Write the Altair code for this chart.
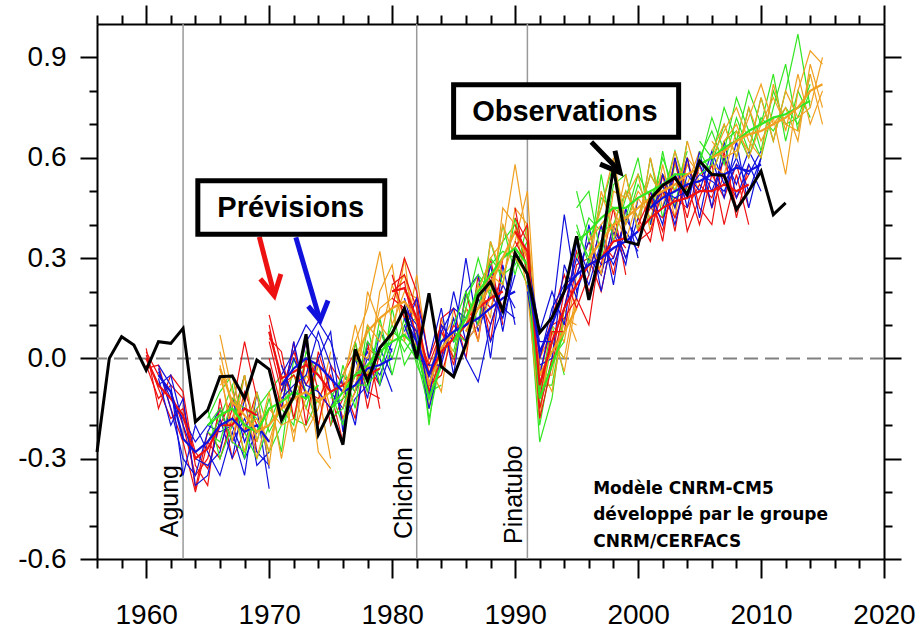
import altair as alt
import pandas as pd

# ---------------- data ----------------
OBS_YEARS = list(range(1956, 2013))
OBS = [-0.28, 0.0, 0.065, 0.04, -0.035, 0.05, 0.045, 0.09, -0.19, -0.155,
       -0.055, -0.053, -0.12, -0.005, -0.033, -0.185, -0.113, 0.072, -0.228, -0.153,
       -0.258, 0.027, -0.068, 0.032, 0.075, 0.15, 0.0, 0.195, -0.025, -0.055,
       0.042, 0.187, 0.229, 0.142, 0.315, 0.252, 0.077, 0.122, 0.2, 0.365,
       0.175, 0.33, 0.57, 0.35, 0.34, 0.477, 0.517, 0.54, 0.49, 0.59,
       0.55, 0.547, 0.445, 0.5, 0.56, 0.43, 0.465]

START_YEARS = [1960, 1961, 1965, 1966, 1970, 1971, 1975, 1976, 1980, 1981,
               1985, 1986, 1990, 1991, 1995, 1996, 2000, 2001, 2005, 2006]
START_COLORS = ["rouge", "bleu", "vert", "orange"] * 5

ENS_MEAN = {
    1960: [0.0, -0.08, -0.12, -0.17, -0.30, -0.27, -0.2, -0.2, -0.15, -0.17],
    1961: [-0.05, -0.1, -0.24, -0.28, -0.25, -0.2, -0.18, -0.22, -0.2, -0.25],
    1965: [-0.2, -0.17, -0.15, -0.2, -0.22, -0.15, -0.13, -0.1, -0.12, -0.08],
    1966: [-0.03, -0.13, -0.17, -0.22, -0.2, -0.15, -0.12, -0.1, -0.13, -0.1],
    1970: [0.08, -0.06, -0.04, -0.02, -0.05, -0.1, -0.08, -0.05, -0.05, -0.03],
    1971: [-0.08, -0.03, 0.0, -0.02, -0.06, -0.1, -0.08, -0.03, -0.02, 0.0],
    1975: [-0.15, -0.1, -0.05, -0.02, 0.02, 0.05, 0.07, 0.03, -0.12, -0.02],
    1976: [-0.1, 0.0, 0.08, 0.12, 0.15, 0.17, 0.12, -0.08, 0.03, 0.08],
    1980: [0.2, 0.21, 0.12, -0.05, 0.02, 0.06, 0.1, 0.15, 0.18, 0.2],
    1981: [0.12, 0.05, -0.05, 0.05, 0.08, 0.1, 0.12, 0.15, 0.18, 0.2],
    1985: [0.05, 0.12, 0.2, 0.25, 0.3, 0.33, 0.28, -0.12, -0.02, 0.08],
    1986: [0.08, 0.15, 0.22, 0.3, 0.38, 0.3, -0.05, 0.02, 0.08, 0.15],
    1990: [0.38, 0.32, -0.08, 0.05, 0.15, 0.22, 0.28, 0.3, 0.35, 0.36],
    1991: [0.25, 0.02, 0.1, 0.2, 0.25, 0.28, 0.3, 0.33, 0.35, 0.38],
    1995: [0.35, 0.38, 0.42, 0.45, 0.45, 0.48, 0.5, 0.52, 0.55, 0.55],
    1996: [0.3, 0.35, 0.4, 0.42, 0.45, 0.48, 0.5, 0.52, 0.55, 0.57],
    2000: [0.38, 0.42, 0.45, 0.47, 0.48, 0.5, 0.5, 0.52, 0.5, 0.52],
    2001: [0.45, 0.48, 0.5, 0.52, 0.53, 0.55, 0.55, 0.57, 0.56, 0.58],
    2005: [0.58, 0.6, 0.63, 0.65, 0.68, 0.7, 0.72, 0.73, 0.75, 0.77],
    2006: [0.6, 0.62, 0.65, 0.67, 0.68, 0.7, 0.72, 0.75, 0.8, 0.82],
}

MEMBERS = {
    1960: [[0.02, -0.05, -0.1, -0.2, -0.35, -0.3, -0.15, -0.25, -0.1, -0.2],
           [-0.02, -0.12, -0.08, -0.12, -0.39, -0.22, -0.27, -0.15, 0.05, -0.12],
           [0.01, -0.09, -0.18, -0.15, -0.28, -0.33, -0.2, -0.12, -0.2, -0.25],
           [-0.03, -0.02, -0.15, -0.25, -0.4, -0.25, -0.3, -0.18, -0.05, -0.28],
           [0.03, -0.15, -0.05, -0.1, -0.32, -0.38, -0.12, -0.3, -0.22, -0.1]],
    1961: [[-0.03, -0.15, -0.3, -0.35, -0.22, -0.15, -0.25, -0.18, -0.28, -0.32],
           [-0.08, -0.05, -0.2, -0.3, -0.32, -0.28, -0.12, -0.25, -0.15, -0.39],
           [-0.04, -0.12, -0.18, -0.25, -0.2, -0.22, -0.2, -0.3, -0.22, -0.2],
           [-0.06, -0.2, -0.12, -0.38, -0.35, -0.18, -0.3, -0.12, -0.32, -0.28],
           [-0.02, -0.08, -0.35, -0.2, -0.28, -0.35, -0.22, -0.35, -0.1, -0.33]],
    1965: [[-0.18, -0.1, -0.05, -0.22, -0.3, -0.2, -0.1, -0.05, -0.15, -0.02],
           [-0.22, -0.25, -0.12, -0.15, -0.18, -0.28, -0.2, -0.12, -0.05, -0.1],
           [-0.2, -0.15, -0.25, -0.28, -0.15, -0.1, -0.05, -0.18, -0.2, -0.12],
           [-0.15, -0.3, -0.2, -0.05, -0.25, -0.12, -0.28, 0.0, -0.1, -0.2],
           [-0.25, -0.18, -0.08, -0.3, -0.1, -0.22, -0.15, -0.2, 0.02, -0.05]],
    1966: [[0.07, -0.1, -0.2, -0.15, -0.28, -0.1, -0.05, -0.15, -0.2, -0.05],
           [-0.05, -0.2, -0.12, -0.3, -0.15, -0.2, -0.18, -0.05, -0.1, -0.3],
           [-0.08, -0.05, -0.22, -0.18, -0.25, -0.12, -0.22, -0.12, -0.02, -0.15],
           [-0.02, -0.25, -0.05, -0.25, -0.1, -0.3, -0.1, -0.22, -0.15, 0.02],
           [0.02, -0.15, -0.28, -0.1, -0.32, -0.05, -0.25, 0.0, -0.28, -0.33]],
    1970: [[0.13, -0.02, -0.12, 0.05, -0.1, -0.15, -0.05, 0.02, -0.1, -0.12],
           [0.05, -0.1, 0.02, -0.08, 0.0, -0.2, -0.12, -0.08, 0.03, 0.0],
           [0.1, -0.08, -0.05, -0.1, -0.12, -0.05, -0.18, -0.1, -0.02, -0.08],
           [0.0, -0.15, 0.05, -0.2, 0.02, -0.1, -0.25, 0.05, -0.15, 0.02],
           [0.06, 0.02, -0.18, 0.0, -0.2, -0.02, -0.08, -0.18, 0.05, -0.15]],
    1971: [[-0.05, 0.02, 0.1, 0.05, -0.1, -0.15, -0.05, 0.02, -0.08, 0.03],
           [-0.12, -0.08, -0.05, 0.08, -0.02, -0.2, -0.12, -0.08, 0.03, -0.05],
           [-0.1, 0.0, -0.08, -0.1, -0.15, -0.05, -0.1, 0.0, -0.05, 0.05],
           [-0.02, -0.12, 0.05, 0.11, 0.05, -0.08, -0.2, 0.05, 0.0, -0.1],
           [-0.15, 0.05, -0.12, 0.0, 0.08, -0.22, 0.0, -0.12, 0.08, 0.02]],
    1975: [[-0.12, -0.05, -0.1, 0.05, 0.0, 0.1, 0.02, 0.08, -0.18, 0.0],
           [-0.18, -0.15, 0.0, -0.05, 0.08, 0.0, 0.12, -0.02, -0.1, -0.08],
           [-0.15, -0.12, -0.08, -0.08, -0.03, 0.08, 0.05, 0.0, -0.15, 0.05],
           [-0.1, -0.2, 0.05, -0.1, 0.12, -0.05, 0.1, 0.12, -0.2, 0.08],
           [-0.2, -0.02, -0.15, 0.1, -0.08, 0.15, -0.02, 0.05, -0.08, -0.05]],
    1976: [[-0.05, 0.05, 0.15, 0.32, 0.1, 0.2, 0.18, -0.12, 0.0, 0.1],
           [-0.15, -0.05, 0.1, 0.05, 0.22, 0.12, 0.05, -0.05, 0.08, 0.02],
           [-0.12, 0.02, 0.0, 0.15, 0.18, 0.25, 0.1, -0.15, 0.05, 0.12],
           [-0.08, 0.1, -0.05, 0.2, 0.28, 0.05, 0.25, -0.02, -0.1, 0.15],
           [-0.18, -0.1, 0.2, 0.1, 0.05, 0.3, 0.02, -0.1, 0.12, 0.0]],
    1980: [[0.22, 0.25, 0.15, -0.1, 0.0, 0.1, 0.05, 0.2, 0.15, 0.25],
           [0.18, 0.15, 0.08, -0.02, 0.08, 0.0, 0.15, 0.1, 0.25, 0.15],
           [0.2, 0.23, 0.05, -0.08, -0.05, 0.08, 0.12, 0.18, 0.1, 0.22],
           [0.15, 0.3, 0.2, 0.0, 0.1, -0.02, 0.2, 0.05, 0.3, 0.1],
           [0.25, 0.12, 0.18, -0.12, 0.12, 0.15, 0.0, 0.25, 0.05, 0.3]],
    1981: [[0.15, 0.1, -0.12, 0.1, 0.05, 0.3, 0.08, 0.2, 0.12, 0.25],
           [0.1, 0.0, -0.02, -0.02, 0.12, 0.0, -0.07, 0.1, 0.22, 0.15],
           [0.12, 0.08, -0.08, 0.08, 0.15, 0.12, 0.18, 0.05, 0.15, 0.12],
           [0.08, 0.18, 0.0, 0.15, -0.05, 0.2, 0.25, 0.0, 0.28, 0.1],
           [0.18, 0.05, -0.15, 0.0, 0.2, 0.05, 0.1, 0.28, 0.08, 0.3]],
    1985: [[0.02, 0.18, 0.25, 0.2, 0.35, 0.4, 0.3, -0.2, 0.0, 0.05],
           [0.08, 0.05, 0.15, 0.3, 0.25, 0.28, 0.35, -0.08, -0.08, 0.12],
           [0.05, 0.1, 0.22, 0.28, 0.32, 0.3, 0.22, -0.15, 0.05, 0.0],
           [0.0, 0.15, 0.3, 0.18, 0.4, 0.25, 0.4, -0.1, 0.1, -0.05],
           [0.1, 0.2, 0.1, 0.35, 0.22, 0.42, 0.25, -0.25, -0.12, 0.15]],
    1986: [[0.1, 0.2, 0.3, 0.35, 0.58, 0.35, -0.12, 0.05, 0.0, 0.2],
           [0.05, 0.1, 0.18, 0.4, 0.3, 0.25, -0.02, -0.1, 0.12, 0.1],
           [0.12, 0.18, 0.25, 0.22, 0.45, 0.4, 0.0, 0.08, -0.04, 0.18],
           [0.15, 0.05, 0.35, 0.25, 0.35, 0.5, -0.05, -0.05, 0.15, 0.05],
           [0.02, 0.22, 0.12, 0.45, 0.4, 0.2, -0.18, 0.1, 0.05, 0.25]],
    1990: [[0.42, 0.35, -0.15, 0.0, 0.2, 0.25, 0.35, 0.25, 0.4, 0.3],
           [0.35, 0.28, -0.05, 0.1, 0.12, 0.18, 0.1, 0.35, 0.3, 0.42],
           [0.4, 0.3, -0.12, 0.08, 0.08, 0.28, 0.3, 0.2, 0.38, 0.33],
           [0.45, 0.25, 0.0, 0.12, 0.25, 0.15, 0.25, 0.4, 0.25, 0.45],
           [0.33, 0.4, -0.18, -0.02, 0.15, 0.32, 0.2, 0.28, 0.45, 0.25]],
    1991: [[0.27, -0.05, 0.12, 0.43, 0.2, 0.3, 0.25, 0.4, 0.3, 0.42],
           [0.22, 0.05, 0.05, 0.15, 0.3, 0.22, 0.35, 0.28, 0.38, 0.32],
           [0.25, 0.0, 0.15, 0.22, 0.25, 0.35, 0.28, 0.3, 0.42, 0.35],
           [0.3, 0.08, 0.2, 0.1, 0.35, 0.25, 0.4, 0.22, 0.45, 0.3],
           [0.2, -0.02, 0.0, 0.28, 0.18, 0.4, 0.2, 0.38, 0.28, 0.48]],
    1995: [[0.5, 0.35, 0.45, 0.58, 0.4, 0.52, 0.45, 0.6, 0.5, 0.62],
           [0.3, 0.42, 0.38, 0.4, 0.5, 0.42, 0.55, 0.48, 0.62, 0.5],
           [0.38, 0.3, 0.48, 0.45, 0.42, 0.55, 0.48, 0.55, 0.5, 0.58],
           [0.45, 0.5, 0.3, 0.52, 0.55, 0.38, 0.6, 0.42, 0.58, 0.48],
           [0.4, 0.28, 0.55, 0.35, 0.48, 0.6, 0.4, 0.62, 0.45, 0.65]],
    1996: [[0.32, 0.45, 0.6, 0.4, 0.5, 0.45, 0.55, 0.5, 0.6, 0.55],
           [0.28, 0.3, 0.35, 0.5, 0.42, 0.55, 0.48, 0.58, 0.52, 0.62],
           [0.35, 0.4, 0.45, 0.35, 0.48, 0.42, 0.52, 0.45, 0.58, 0.5],
           [0.25, 0.5, 0.38, 0.55, 0.38, 0.6, 0.45, 0.62, 0.48, 0.6],
           [0.38, 0.25, 0.5, 0.48, 0.55, 0.38, 0.58, 0.42, 0.65, 0.52]],
    2000: [[0.4, 0.48, 0.38, 0.55, 0.42, 0.58, 0.45, 0.55, 0.48, 0.55],
           [0.35, 0.38, 0.5, 0.42, 0.52, 0.4, 0.55, 0.48, 0.58, 0.45],
           [0.38, 0.45, 0.42, 0.48, 0.45, 0.52, 0.48, 0.6, 0.45, 0.5],
           [0.42, 0.35, 0.55, 0.38, 0.6, 0.45, 0.4, 0.62, 0.42, 0.58],
           [0.33, 0.5, 0.35, 0.6, 0.38, 0.48, 0.58, 0.4, 0.55, 0.4]],
    2001: [[0.48, 0.52, 0.4, 0.55, 0.5, 0.62, 0.52, 0.6, 0.5, 0.6],
           [0.42, 0.45, 0.55, 0.48, 0.58, 0.5, 0.6, 0.52, 0.62, 0.55],
           [0.45, 0.5, 0.48, 0.5, 0.55, 0.53, 0.5, 0.58, 0.55, 0.62],
           [0.5, 0.4, 0.6, 0.45, 0.62, 0.45, 0.65, 0.48, 0.58, 0.5],
           [0.4, 0.55, 0.45, 0.6, 0.42, 0.6, 0.48, 0.65, 0.45, 0.6]],
    2005: [[0.6, 0.68, 0.58, 0.72, 0.62, 0.78, 0.65, 0.8, 0.97, 0.75],
           [0.55, 0.58, 0.7, 0.6, 0.75, 0.62, 0.8, 0.7, 0.72, 0.82],
           [0.62, 0.55, 0.65, 0.68, 0.6, 0.72, 0.68, 0.75, 0.7, 0.8],
           [0.65, 0.6, 0.75, 0.65, 0.8, 0.7, 0.85, 0.65, 0.8, 0.72],
           [0.58, 0.72, 0.62, 0.78, 0.68, 0.6, 0.75, 0.88, 0.68, 0.85]],
    2006: [[0.62, 0.7, 0.6, 0.75, 0.65, 0.72, 0.55, 0.8, 0.92, 0.88],
           [0.58, 0.55, 0.68, 0.62, 0.78, 0.65, 0.8, 0.72, 0.75, 0.9],
           [0.55, 0.65, 0.7, 0.6, 0.7, 0.78, 0.7, 0.68, 0.85, 0.7],
           [0.6, 0.68, 0.75, 0.65, 0.6, 0.82, 0.68, 0.85, 0.7, 0.8],
           [0.65, 0.6, 0.62, 0.72, 0.82, 0.7, 0.75, 0.65, 0.88, 0.75]],
}

COLOR_NAMES = ["rouge", "bleu", "vert", "orange", "noir"]
COLOR_VALUES = ["#ee1111", "#1111dd", "#33e622", "#f0a020", "#000000"]

VOLC_NAMES = ["Agung", "Chichon", "Pinatubo"]
VOLC_YEARS = [1963, 1982, 1991]
VOLC_LABEL_Y = [-0.535, -0.54, -0.555]

X_TICKS = list(range(1956, 2021, 2))
Y_TICKS = [-0.6, -0.5, -0.4, -0.3, -0.2, -0.1, 0.0, 0.1, 0.2, 0.3, 0.4, 0.5, 0.6, 0.7, 0.8, 0.9]

# annotation boxes (data coordinates)
BOX_TEXT = ["Prévisions", "Observations"]
BOX_X1 = [1964.2, 1985.0]
BOX_X2 = [1979.4, 2003.3]
BOX_Y1 = [0.531, 0.818]
BOX_Y2 = [0.371, 0.661]
BOX_TX = [1971.75, 1994.05]
BOX_TY = [0.451, 0.737]

# arrows
ARROW_GROUP = ["r_s", "r_s", "r_h", "r_h", "r_h",
               "b_s", "b_s", "b_h", "b_h", "b_h",
               "k_s", "k_s", "k_h", "k_h", "k_h"]
ARROW_COL = ["rouge"] * 5 + ["bleu"] * 5 + ["noir"] * 5
ARROW_X = [1969.20, 1970.35, 1969.28, 1970.41, 1970.95,
           1972.17, 1974.05, 1973.17, 1974.14, 1974.79,
           1996.20, 1998.45, 1996.91, 1998.53, 1998.12]
ARROW_Y = [0.363, 0.20, 0.2375, 0.188, 0.2525,
           0.362, 0.125, 0.156, 0.113, 0.173,
           0.647, 0.562, 0.581, 0.556, 0.621]

CREDIT = ["Modèle CNRM-CM5", "développé par le groupe", "CNRM/CERFACS"]
CREDIT_X = 1996.35
CREDIT_Y = [-0.405, -0.483, -0.565]

# ---------------- tables ----------------
obs_df = pd.DataFrame({"year": OBS_YEARS, "v": OBS})

mem_rows, mean_rows = [], []
for s, c in zip(START_YEARS, START_COLORS):
    for k, series in enumerate(MEMBERS[s]):
        for i, val in enumerate(series):
            mem_rows.append({"id": f"{s}_{k}", "year": s + i, "v": val, "col": c})
    for i, val in enumerate(ENS_MEAN[s]):
        mean_rows.append({"id": f"{s}_m", "year": s + i, "v": val, "col": c})
mem_df = pd.DataFrame(mem_rows)
mean_df = pd.DataFrame(mean_rows)

volc_df = pd.DataFrame({"name": VOLC_NAMES, "year": VOLC_YEARS, "ly": VOLC_LABEL_Y})
box_df = pd.DataFrame({"t": BOX_TEXT, "x1": BOX_X1, "x2": BOX_X2, "y1": BOX_Y1,
                       "y2": BOX_Y2, "tx": BOX_TX, "ty": BOX_TY})
arrow_df = pd.DataFrame({"g": ARROW_GROUP, "col": ARROW_COL, "x": ARROW_X, "y": ARROW_Y,
                         "k": list(range(len(ARROW_X)))})
credit_df = pd.DataFrame({"t": CREDIT, "x": [CREDIT_X] * 3, "y": CREDIT_Y})
zero_df = pd.DataFrame({"v": [0.0]})

# ---------------- scales / axes ----------------
xs = alt.Scale(domain=[1956, 2020], nice=False, zero=False)
ys = alt.Scale(domain=[-0.6, 1.0], nice=False, zero=False)
cs = alt.Scale(domain=COLOR_NAMES, range=COLOR_VALUES)

x_major = "datum.value % 10 == 0"
y_major = "round(datum.value * 10) % 3 == 0"

ax_bottom = alt.Axis(orient="bottom", values=X_TICKS, format="d", title=None,
                     labelExpr=f"{x_major} ? datum.label : ''",
                     tickSize={"condition": {"test": x_major, "value": 19}, "value": 9},
                     labelPadding=23, labelOverlap=False, labelFlush=False, grid=False)
ax_top = alt.Axis(orient="top", values=X_TICKS, title=None, labels=False,
                  tickSize={"condition": {"test": x_major, "value": 19}, "value": 9}, grid=False)
ax_left = alt.Axis(orient="left", values=Y_TICKS, format=".1f", title=None,
                   labelExpr=f"{y_major} ? replace(datum.label, '\u2212', '-') : ''",
                   tickSize={"condition": {"test": y_major, "value": 17}, "value": 8},
                   labelPadding=14, labelOverlap=False, labelFlush=False, grid=False)
ax_right = alt.Axis(orient="right", values=Y_TICKS, title=None, labels=False,
                    tickSize={"condition": {"test": y_major, "value": 17}, "value": 8}, grid=False)

# ---------------- layers ----------------
volc_rules = alt.Chart(volc_df).mark_rule(color="#9a9a9a", strokeWidth=1.5).encode(
    x=alt.X("year:Q", scale=xs, axis=ax_top))

zero_rule = alt.Chart(zero_df).mark_rule(color="#808080", strokeWidth=2, strokeDash=[14, 7]).encode(
    y=alt.Y("v:Q", scale=ys, axis=ax_right))

volc_text = alt.Chart(volc_df).mark_text(angle=270, align="left", baseline="alphabetic", dy=-5,
                                         font="Liberation Sans", fontSize=25, color="black").encode(
    x=alt.X("year:Q", scale=xs, axis=None), y=alt.Y("ly:Q", scale=ys, axis=None), text="name:N")

members = alt.Chart(mem_df).mark_line(strokeWidth=1.2).encode(
    x=alt.X("year:Q", scale=xs, axis=None), y=alt.Y("v:Q", scale=ys, axis=None),
    detail="id:N", color=alt.Color("col:N", scale=cs, legend=None))

means = alt.Chart(mean_df).mark_line(strokeWidth=2.2).encode(
    x=alt.X("year:Q", scale=xs, axis=None), y=alt.Y("v:Q", scale=ys, axis=None),
    detail="id:N", color=alt.Color("col:N", scale=cs, legend=None))

obs = alt.Chart(obs_df).mark_line(color="black", strokeWidth=3).encode(
    x=alt.X("year:Q", scale=xs, axis=ax_bottom), y=alt.Y("v:Q", scale=ys, axis=ax_left))

arrows = alt.Chart(arrow_df).mark_line(strokeWidth=5, strokeCap="butt", strokeJoin="miter").encode(
    x=alt.X("x:Q", scale=xs, axis=None), y=alt.Y("y:Q", scale=ys, axis=None),
    detail="g:N", order="k:Q", color=alt.Color("col:N", scale=cs, legend=None))

boxes = alt.Chart(box_df).mark_rect(fill="white", stroke="black", strokeWidth=5).encode(
    x=alt.X("x1:Q", scale=xs, axis=None), x2="x2:Q",
    y=alt.Y("y1:Q", scale=ys, axis=None), y2="y2:Q")

box_text = alt.Chart(box_df).mark_text(font="Liberation Sans", fontWeight="bold", fontSize=29,
                                       baseline="middle", align="center", color="black").encode(
    x=alt.X("tx:Q", scale=xs, axis=None), y=alt.Y("ty:Q", scale=ys, axis=None), text="t:N")

credit = alt.Chart(credit_df).mark_text(font="Comic Sans MS, DejaVu Sans", fontWeight="bold",
                                        fontSize=17, align="left", baseline="alphabetic",
                                        color="black").encode(
    x=alt.X("x:Q", scale=xs, axis=None), y=alt.Y("y:Q", scale=ys, axis=None), text="t:N")

chart = alt.layer(volc_rules, zero_rule, volc_text, members, means, obs,
                  arrows, boxes, box_text, credit).resolve_axis(
    x="independent", y="independent"
).properties(
    width=787, height=535, autosize="none",
    padding={"left": 97, "top": 24, "right": 37, "bottom": 72},
).configure_view(stroke=None).configure_axis(
    domainColor="black", domainWidth=2, tickColor="black", tickWidth=2,
    labelFont="Liberation Sans", labelFontSize=28, labelColor="black",
)

chart.save("out.html", embed_options={"renderer": "svg", "actions": False})
